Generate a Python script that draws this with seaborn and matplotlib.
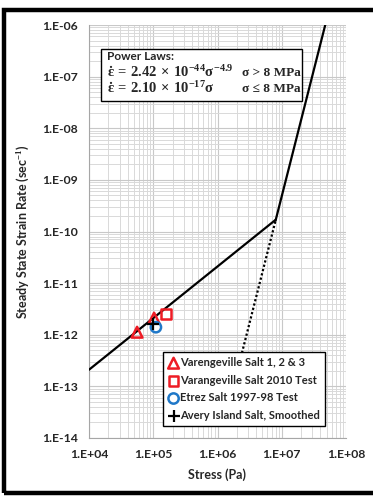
import numpy as np
import pandas as pd
import matplotlib
matplotlib.use("Agg")
import matplotlib.pyplot as plt
from matplotlib.patches import Rectangle
from matplotlib.ticker import LogLocator, FixedLocator, NullFormatter
import seaborn as sns

# Power-law creep coefficients (strain rate in 1/s, stress in Pa)
low_coef, low_exp = 2.10e-17, 1.0
high_coef, high_exp = 2.42e-44, 4.9
transition_stress = 8e6

# Stress end points of each law segment
low_stress = [1e4, 8e6]
high_stress = [8e6, 4.75e7]
high_ext_stress = [2.4e6, 8e6]

# Laboratory creep data
varengeville_x = [5.6e4, 1.03e5]
varengeville_y = [1.12e-12, 2.1e-12]
varangeville2010_x = [1.57e5]
varangeville2010_y = [2.5e-12]
etrez_x = [1.1e5]
etrez_y = [1.4e-12]
avery_x = [9.9e4]
avery_y = [1.6e-12]

x_ticks = [1e4, 1e5, 1e6, 1e7, 1e8]
x_tick_labels = ["1.E+04", "1.E+05", "1.E+06", "1.E+07", "1.E+08"]
y_ticks = [1e-14, 1e-13, 1e-12, 1e-11, 1e-10, 1e-9, 1e-8, 1e-7, 1e-6]
y_tick_labels = ["1.E-14", "1.E-13", "1.E-12", "1.E-11", "1.E-10",
                 "1.E-09", "1.E-08", "1.E-07", "1.E-06"]

sns.set_style("white")
plt.rcParams["font.family"] = ["Lato", "DejaVu Sans"]
plt.rcParams["mathtext.fontset"] = "custom"
plt.rcParams["mathtext.rm"] = "Liberation Serif:bold"
plt.rcParams["mathtext.it"] = "Liberation Serif:bold"
plt.rcParams["mathtext.bf"] = "Liberation Serif:bold"
plt.rcParams["mathtext.sf"] = "Liberation Serif:bold"

W, H = 373, 496
fig = plt.figure(figsize=(W / 100, H / 100), dpi=100)
ax = fig.add_axes([89 / W, 1 - 438 / H, (346 - 89) / W, (438 - 25) / H])

low_df = pd.DataFrame({"stress": low_stress,
                       "rate": [low_coef * s ** low_exp for s in low_stress]})
high_df = pd.DataFrame({"stress": high_stress,
                        "rate": [high_coef * s ** high_exp for s in high_stress]})
ext_df = pd.DataFrame({"stress": high_ext_stress,
                       "rate": [high_coef * s ** high_exp for s in high_ext_stress]})

ax.set_xscale("log")
ax.set_yscale("log")

sns.lineplot(data=low_df, x="stress", y="rate", ax=ax, color="black", lw=1.6, zorder=3)
sns.lineplot(data=high_df, x="stress", y="rate", ax=ax, color="black", lw=1.6, zorder=3)
sns.lineplot(data=ext_df, x="stress", y="rate", ax=ax, color="black", lw=1.6,
             linestyle=(0, (1, 1)), zorder=3)

red = "#ee1c25"
blue = "#1f78c8"
sns.scatterplot(x=varengeville_x, y=varengeville_y, ax=ax, marker="^", s=60,
                facecolor="none", edgecolor=red, linewidth=1.8, zorder=4,
                label="Varengeville Salt 1, 2 & 3")
sns.scatterplot(x=varangeville2010_x, y=varangeville2010_y, ax=ax, marker="s", s=50,
                facecolor="none", edgecolor=red, linewidth=1.8, zorder=4,
                label="Varangeville Salt 2010 Test")
sns.scatterplot(x=etrez_x, y=etrez_y, ax=ax, marker="o", s=55,
                facecolor="none", edgecolor=blue, linewidth=1.8, zorder=4,
                label="Etrez Salt 1997-98 Test")
sns.scatterplot(x=avery_x, y=avery_y, ax=ax, marker="+", s=65,
                color="black", linewidth=1.6, zorder=5,
                label="Avery Island Salt, Smoothed")

ax.set_xlim(1e4, 1e8)
ax.set_ylim(1e-14, 1e-6)

ax.xaxis.set_major_locator(FixedLocator(x_ticks))
ax.set_xticklabels(x_tick_labels)
ax.yaxis.set_major_locator(FixedLocator(y_ticks))
ax.set_yticklabels(y_tick_labels)
ax.xaxis.set_minor_locator(LogLocator(base=10, subs=np.arange(2, 10), numticks=20))
ax.yaxis.set_minor_locator(LogLocator(base=10, subs=np.arange(2, 10), numticks=20))
ax.xaxis.set_minor_formatter(NullFormatter())
ax.yaxis.set_minor_formatter(NullFormatter())

ax.grid(which="major", color="#c8c8c8", lw=0.8)
ax.grid(which="minor", color="#d9d9d9", lw=0.7)
ax.set_axisbelow(True)
for side in ["top", "right"]:
    ax.spines[side].set_visible(False)
for side in ["left", "bottom"]:
    ax.spines[side].set_color("#a6a6a6")
    ax.spines[side].set_linewidth(0.8)
ax.tick_params(axis="both", which="major", length=4, color="#a6a6a6", width=0.8,
               labelsize=8.8, pad=4)
ax.tick_params(axis="both", which="minor", length=0)
for lab in ax.get_xticklabels() + ax.get_yticklabels():
    lab.set_fontweight("bold")

ax.set_xlabel("Stress (Pa)", fontsize=9, fontweight="bold", labelpad=6)
ax.set_ylabel("Steady State Strain Rate (sec$^{-1}$)", fontsize=9,
              fontweight="bold", labelpad=8)

leg = ax.legend(loc="upper left", bbox_to_anchor=(0.288, 0.208), borderaxespad=0,
                frameon=True, fancybox=False, edgecolor="black", fontsize=8,
                handletextpad=0.1, handlelength=1.0, labelspacing=0.6,
                borderpad=0.45, framealpha=1)
leg.get_frame().set_linewidth(1.0)
for t in leg.get_texts():
    t.set_fontweight("bold")

# Power-law annotation box
ax.add_patch(Rectangle((0.047, 0.816), 0.782, 0.126, transform=ax.transAxes,
                       facecolor="white", edgecolor="black", lw=1.0, zorder=6))
ax.text(0.07, 0.923, "Power Laws:", transform=ax.transAxes, fontsize=8.5,
        fontweight="bold", va="center", ha="left", zorder=7)
ax.text(0.07, 0.885, r"$\dot{\epsilon}\,=\,2.42\,\times\,10^{-44}\sigma^{-4.9}$",
        transform=ax.transAxes, fontsize=10.5, va="center", ha="left", zorder=7)
ax.text(0.07, 0.847, r"$\dot{\epsilon}\,=\,2.10\,\times\,10^{-17}\sigma$",
        transform=ax.transAxes, fontsize=10.5, va="center", ha="left", zorder=7)
ax.text(0.597, 0.883, "σ > 8 MPa", transform=ax.transAxes, fontsize=9.5,
        family="Liberation Serif", fontweight="bold", va="center", ha="left", zorder=7)
ax.text(0.597, 0.845, "σ ≤ 8 MPa", transform=ax.transAxes, fontsize=9.5,
        family="Liberation Serif", fontweight="bold", va="center", ha="left", zorder=7)

# Heavy outer frame
fig.patches.append(Rectangle((4 / W, 1 - 493 / H), (W + 10) / W, (493 - 10) / H,
                             transform=fig.transFigure, facecolor="none",
                             edgecolor="black", lw=3.2, zorder=10))

fig.savefig("out.png", dpi=100)
